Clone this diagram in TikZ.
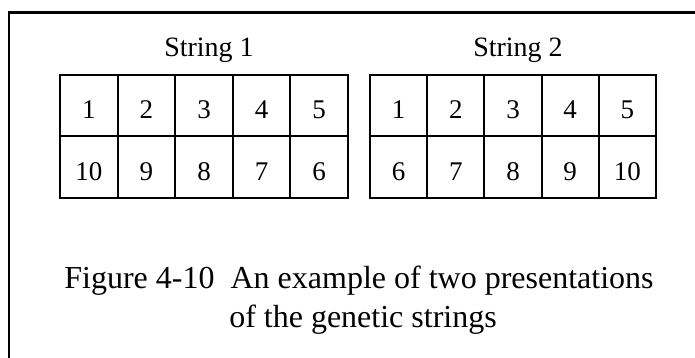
\documentclass[tikz,border=0pt]{standalone}
\usepackage{fontspec}
\setmainfont{Liberation Serif}
\begin{document}
\begin{tikzpicture}[x=1pt,y=-1pt,
  cellbox/.style={draw, line width=2pt, minimum height=61pt, inner sep=0pt, text height=26pt, text depth=0pt, font=\fontsize{27}{30}\selectfont},
  cellA/.style={cellbox, minimum width=57.6pt},
  cellB/.style={cellbox, minimum width=57.2pt},
  strlabel/.style={anchor=base, inner sep=0pt, font=\fontsize{28}{30}\selectfont},
  captext/.style={anchor=base, inner sep=0pt, font=\fontsize{32}{34}\selectfont}]
\useasboundingbox (0,0) rectangle (695,358);
% frame
\coordinate (fbl) at (9,358);
\coordinate (ftl) at (9,13);
\coordinate (ftr) at (695,13);
\draw[line width=2pt] (fbl) -- (ftl);
\draw[line width=3pt] ([xshift=-1pt]ftl) -- (ftr);
% labels
\node[strlabel] (s1) at (209,57) {String 1};
\node[strlabel] (s2) at (518,57) {String 2};
% string 1
\foreach \t [count=\i from 0] in {1,2,3,4,5}
  \node[cellA] (a\i) at (60+28.8+57.6*\i,106) {\t};
\foreach \t [count=\i from 0] in {10,9,8,7,6}
  \node[cellA] (b\i) at (60+28.8+57.6*\i,167) {\t};
% string 2
\foreach \t [count=\i from 0] in {1,2,3,4,5}
  \node[cellB] (c\i) at (370+28.6+57.2*\i,106) {\t};
\foreach \t [count=\i from 0] in {6,7,8,9,10}
  \node[cellB] (d\i) at (370+28.6+57.2*\i,167) {\t};
% caption
\node[captext] (cap1) at (359,288) {Figure 4-10\hspace{0.25em} An example of two presentations};
\node[captext] (cap2) at (363,327) {of the genetic strings};
\end{tikzpicture}
\end{document}
